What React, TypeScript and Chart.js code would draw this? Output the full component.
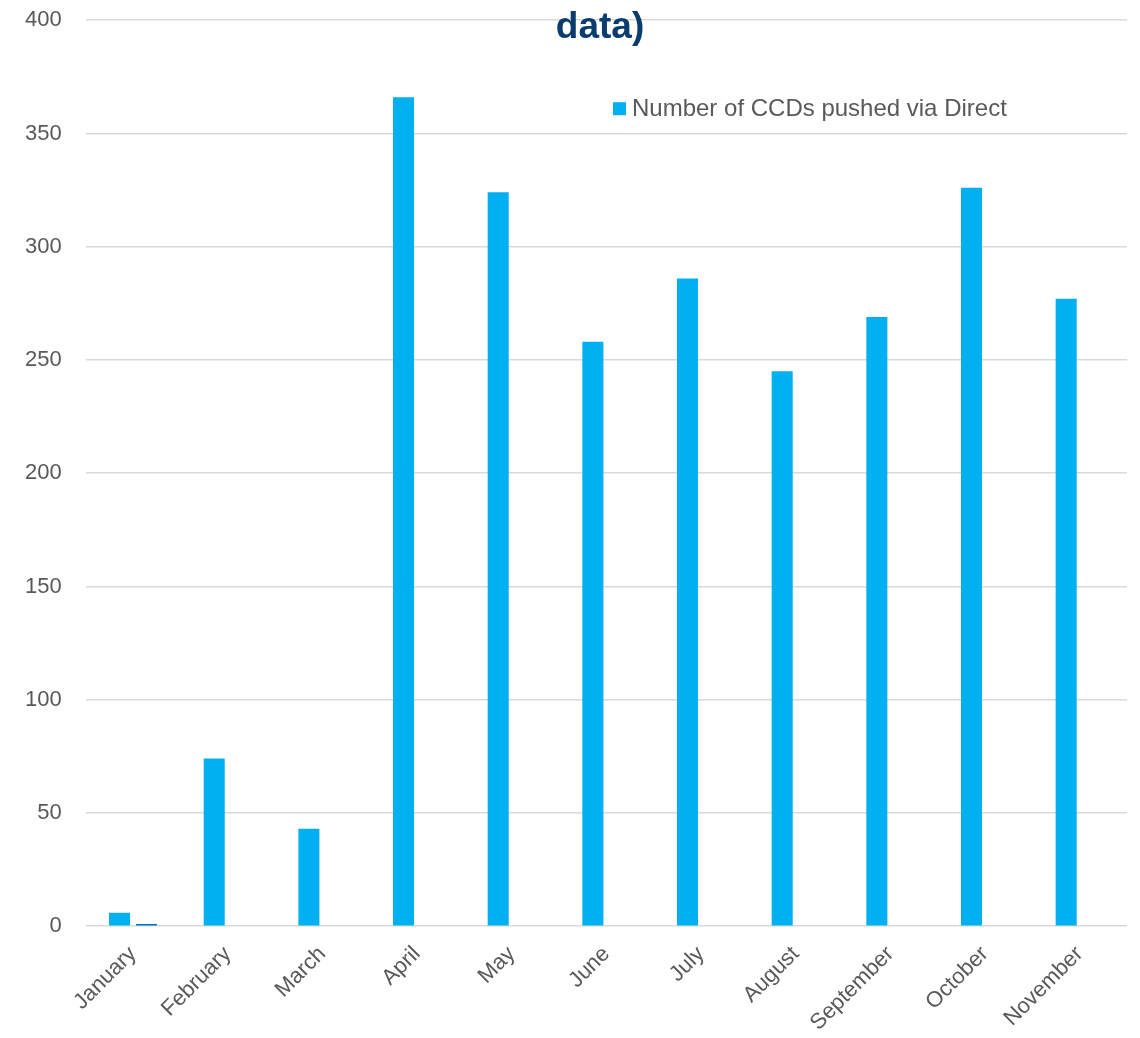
import React, { useEffect, useRef } from "react";
import { Chart, registerables } from "chart.js";

Chart.register(...registerables);

const categories = [
  "January",
  "February",
  "March",
  "April",
  "May",
  "June",
  "July",
  "August",
  "September",
  "October",
  "November",
];
const ccdsPushedViaDirect = [6, 74, 43, 366, 324, 258, 286, 245, 269, 326, 277];
const secondarySeries = [1, null, null, null, null, null, null, null, null, null, null];
const titleTail = "data)";
const legendLabel = "Number of CCDs pushed via Direct";
const yMin = 0;
const yMax = 400;
const yStep = 50;

const FONT = "'Liberation Sans', Arial, sans-serif";
const TEXT = "#595959";

const overlayPlugin = {
  id: "overlay",
  afterDraw(chart: any) {
    const ctx = chart.ctx;
    const area = chart.chartArea;
    ctx.save();
    // title (its upper part is clipped off above the page, as in the reference)
    ctx.fillStyle = "#0B3C6E";
    ctx.font = `bold 37px ${FONT}`;
    ctx.textAlign = "center";
    ctx.textBaseline = "alphabetic";
    ctx.fillText(titleTail, 600, area.top + 18);
    // legend
    const ds = chart.data.datasets[0];
    ctx.fillStyle = ds.backgroundColor;
    const lx = area.right - 514;
    const ly = area.top + 82;
    ctx.fillRect(lx, ly, 13, 13);
    ctx.fillStyle = TEXT;
    ctx.font = `24px ${FONT}`;
    ctx.textAlign = "left";
    ctx.textBaseline = "middle";
    ctx.fillText(ds.label, lx + 19, ly + 7);
    ctx.restore();
  },
};

export default function App() {
  const ref = useRef<HTMLCanvasElement>(null);
  useEffect(() => {
    if (!ref.current) return;
    const chart = new Chart(ref.current, {
      type: "bar",
      data: {
        labels: categories,
        datasets: [
          {
            label: legendLabel,
            data: ccdsPushedViaDirect,
            backgroundColor: "#00B0F0",
            barPercentage: 0.78,
            categoryPercentage: 0.57,
          },
          {
            label: "",
            data: secondarySeries as any,
            backgroundColor: "#0070C0",
            barPercentage: 0.78,
            categoryPercentage: 0.57,
          },
        ],
      },
      options: {
        animation: false,
        responsive: false,
        maintainAspectRatio: false,
        layout: { padding: { left: 1, right: 13, top: 0, bottom: 0 } },
        plugins: {
          legend: { display: false },
          title: { display: false },
          tooltip: { enabled: false },
        },
        scales: {
          x: {
            grid: { display: false, drawTicks: false },
            border: { display: false },
            ticks: {
              color: TEXT,
              font: { family: FONT, size: 22 },
              maxRotation: 45,
              minRotation: 45,
              padding: 15,
              autoSkip: false,
            },
          },
          y: {
            min: yMin,
            max: yMax,
            grid: { color: "#D9D9D9", lineWidth: 1.5, drawTicks: false },
            border: { display: false },
            ticks: {
              stepSize: yStep,
              color: TEXT,
              font: { family: FONT, size: 22 },
              padding: 24,
            },
          },
        },
      },
      plugins: [overlayPlugin],
    });
    return () => chart.destroy();
  }, []);
  return (
    <div style={{ position: "fixed", left: 0, top: 0, width: 1140, height: 1038, overflow: "hidden", background: "#fff" }}>
      <canvas
        ref={ref}
        width={1140}
        height={1068}
        style={{ position: "absolute", left: 0, top: -17, width: 1140, height: 1068, display: "block" }}
      />
    </div>
  );
}
